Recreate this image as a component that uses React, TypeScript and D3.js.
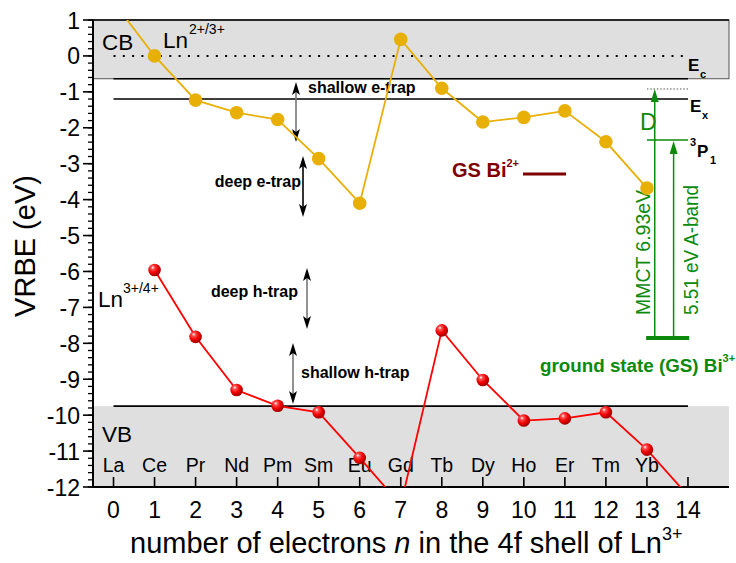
import React from "react";
import * as d3 from "d3";

const lnLabels = ["La", "Ce", "Pr", "Nd", "Pm", "Sm", "Eu", "Gd", "Tb", "Dy", "Ho", "Er", "Tm", "Yb"];
const xTickValues = [0, 1, 2, 3, 4, 5, 6, 7, 8, 9, 10, 11, 12, 13, 14];
const yTickValues = [1, 0, -1, -2, -3, -4, -5, -6, -7, -8, -9, -10, -11, -12];

const ln23N = [0, 1, 2, 3, 4, 5, 6, 7, 8, 9, 10, 11, 12, 13];
const ln23Values = [1.5, 0, -1.23, -1.58, -1.77, -2.86, -4.1, 0.46, -0.9, -1.84, -1.71, -1.53, -2.39, -3.68];

const ln34N = [1, 2, 3, 4, 5, 6, 7, 8, 9, 10, 11, 12, 13, 14];
const ln34Values = [-5.96, -7.82, -9.3, -9.74, -9.92, -11.19, -12.5, -7.64, -9.02, -10.15, -10.09, -9.92, -10.96, -12.24];

const levelEc = -0.635;
const levelEx = -1.2;
const levelVB = -9.75;
const biGS3 = -7.85;
const biMMCT = 6.93;
const biAband = 5.51;
const biGS2 = -3.29;

const W = 736;
const H = 563;
const FONT = "'Liberation Sans', Arial, Helvetica, sans-serif";
const GREY = "#dedfde";
const GOLD = "#e8b007";
const RED = "#ff0000";
const GREEN = "#0b8a0b";
const WINE = "#7f0000";

function DoubleArrow({ cx, top, bottom, color }: { cx: number; top: number; bottom: number; color: string }) {
  return (
    <g>
      <line x1={cx} x2={cx} y1={top + 8} y2={bottom - 8} stroke={color} strokeWidth={1.6} />
      <polygon points={`${cx},${top} ${cx - 4},${top + 13} ${cx},${top + 10} ${cx + 4},${top + 13}`} fill="#000" />
      <polygon points={`${cx},${bottom} ${cx - 4},${bottom - 13} ${cx},${bottom - 10} ${cx + 4},${bottom - 13}`} fill="#000" />
    </g>
  );
}

export default function App() {
  const x = d3.scaleLinear().domain([-0.5, 15]).range([93, 729]);
  const y = d3.scaleLinear().domain([-12, 1]).range([487, 20]);
  const line = d3
    .line<[number, number]>()
    .x((d) => x(d[0]))
    .y((d) => y(d[1]));

  const ln23: [number, number][] = ln23N.map((n, i) => [n, ln23Values[i]]);
  const ln34: [number, number][] = ln34N.map((n, i) => [n, ln34Values[i]]);
  const inRange = (d: [number, number]) => d[1] >= -12 && d[1] <= 1;

  const minorTicks = d3.range(-12, 1.0001, 0.2).map((v) => Math.round(v * 10) / 10);

  const x0 = x(-0.5);
  const x1 = x(15);
  const yTop = y(1);
  const yBot = y(-12);

  const mmctX = x(13.19);
  const abandX = x(13.65);
  const gsY = y(biGS3);
  const mmctTop = y(biGS3 + biMMCT);
  const p1Y = y(biGS3 + biAband);

  return (
    <svg width={W} height={H} style={{ position: "absolute", left: 0, top: 0 }} fontFamily={FONT}>
      <defs>
        <clipPath id="plotClip">
          <rect x={x0} y={yTop} width={x1 - x0} height={yBot - yTop} />
        </clipPath>
        <radialGradient id="redBall" cx="38%" cy="35%" r="65%" fx="35%" fy="30%">
          <stop offset="0%" stopColor="#ffffff" />
          <stop offset="22%" stopColor="#ff5050" />
          <stop offset="60%" stopColor="#f00000" />
          <stop offset="100%" stopColor="#a00000" />
        </radialGradient>
      </defs>
      <rect width={W} height={H} fill="#fff" />

      {/* CB region */}
      <rect x={x0} y={yTop} width={x1 - x0} height={y(levelEc) - yTop} fill={GREY} stroke="#555" strokeWidth={1} />
      <line x1={x0} x2={x1} y1={yTop} y2={yTop} stroke="#000" strokeWidth={1.5} />
      {/* VB region */}
      <rect x={x0} y={y(levelVB)} width={x1 - x0} height={yBot - y(levelVB)} fill={GREY} />

      {/* level lines */}
      <line x1={x(0)} x2={x(14)} y1={y(levelEc)} y2={y(levelEc)} stroke="#000" strokeWidth={1.6} />
      <line x1={x(0)} x2={x(14)} y1={y(levelEx)} y2={y(levelEx)} stroke="#000" strokeWidth={1.6} />
      <line x1={x(0)} x2={x(14)} y1={y(levelVB)} y2={y(levelVB)} stroke="#000" strokeWidth={1.6} />
      <line x1={x(0)} x2={x(13.95)} y1={y(0)} y2={y(0)} stroke="#000" strokeWidth={2} strokeDasharray="2,7.3" />

      {/* axes */}
      <line x1={x0} x2={x0} y1={yTop} y2={yBot} stroke="#000" strokeWidth={2} />
      <line x1={x0} x2={x1} y1={yBot} y2={yBot} stroke="#000" strokeWidth={2} />
      {minorTicks.map((v) => (
        <line key={"m" + v} x1={x0 - 5} x2={x0} y1={y(v)} y2={y(v)} stroke="#000" strokeWidth={1.3} />
      ))}
      {yTickValues.map((v) => (
        <g key={"y" + v}>
          <line x1={x0 - 10} x2={x0} y1={y(v)} y2={y(v)} stroke="#000" strokeWidth={1.6} />
          <text x={x0 - 13} y={y(v) + 8.5} textAnchor="end" fontSize={23}>
            {v < 0 ? "-" + Math.abs(v) : String(v)}
          </text>
        </g>
      ))}
      {xTickValues.map((v) => (
        <g key={"x" + v}>
          <line x1={x(v)} x2={x(v)} y1={yBot} y2={yBot - 10} stroke="#000" strokeWidth={1.6} />
          <text x={x(v)} y={518} textAnchor="middle" fontSize={23}>
            {v}
          </text>
        </g>
      ))}
      {lnLabels.map((l, i) => (
        <text key={l} x={x(i)} y={472} textAnchor="middle" fontSize={19.5}>
          {l}
        </text>
      ))}

      {/* axis titles */}
      <text transform={`translate(35,246) rotate(-90)`} textAnchor="middle" fontSize={29}>
        VRBE (eV)
      </text>
      <text x={130} y={553} fontSize={29}>
        number of electrons <tspan fontStyle="italic">n</tspan> in the 4f shell of Ln
        <tspan fontSize={18} dy={-13}>3+</tspan>
      </text>

      {/* region labels */}
      <text x={102} y={50} fontSize={22.5}>CB</text>
      <text x={102} y={442} fontSize={22.5}>VB</text>
      <text x={163} y={48} fontSize={22.5}>Ln</text>
      <text x={189} y={34} fontSize={14}>2+/3+</text>
      <text x={98} y={307} fontSize={22.5}>Ln</text>
      <text x={123} y={293} fontSize={14}>3+/4+</text>

      {/* Ec, Ex, 3P1 labels */}
      <text x={688} y={71} fontSize={17} fontWeight="bold">E</text>
      <text x={700} y={78} fontSize={11} fontWeight="bold">c</text>
      <text x={690} y={112} fontSize={17} fontWeight="bold">E</text>
      <text x={702} y={119} fontSize={11} fontWeight="bold">x</text>
      <text x={690} y={146} fontSize={11} fontWeight="bold">3</text>
      <text x={697} y={157} fontSize={17} fontWeight="bold">P</text>
      <text x={710} y={164} fontSize={11} fontWeight="bold">1</text>

      {/* trap annotations */}
      <text x={308} y={93} fontSize={16} fontWeight="bold">shallow e-trap</text>
      <text x={301} y={187} fontSize={16} fontWeight="bold" textAnchor="end">deep e-trap</text>
      <text x={298} y={297} fontSize={16} fontWeight="bold" textAnchor="end">deep h-trap</text>
      <text x={301} y={378} fontSize={16} fontWeight="bold">shallow h-trap</text>
      <DoubleArrow cx={296} top={82} bottom={142} color="#777" />
      <DoubleArrow cx={303} top={156} bottom={217} color="#000" />
      <DoubleArrow cx={307} top={268} bottom={329} color="#777" />
      <DoubleArrow cx={293} top={343} bottom={404} color="#777" />

      {/* GS Bi2+ */}
      <text x={452} y={177} fontSize={20} fontWeight="bold" fill={WINE}>
        GS Bi<tspan fontSize={11} dy={-10}>2+</tspan>
      </text>
      <line x1={523} x2={566} y1={y(biGS2)} y2={y(biGS2)} stroke={WINE} strokeWidth={3} />

      {/* Bi3+ scheme */}
      <line x1={x(13)} x2={x(14)} y1={mmctTop} y2={mmctTop} stroke="#555" strokeWidth={1} strokeDasharray="1.5,1.8" />
      <line x1={x(13)} x2={x(14)} y1={p1Y} y2={p1Y} stroke={GREEN} strokeWidth={1.5} />
      <line x1={mmctX} x2={mmctX} y1={gsY} y2={mmctTop + 10} stroke={GREEN} strokeWidth={1.5} />
      <polygon points={`${mmctX},${mmctTop} ${mmctX - 4},${mmctTop + 13} ${mmctX + 4},${mmctTop + 13}`} fill={GREEN} />
      <line x1={abandX} x2={abandX} y1={gsY} y2={p1Y + 10} stroke={GREEN} strokeWidth={1.5} />
      <polygon points={`${abandX},${p1Y + 1} ${abandX - 4},${p1Y + 14} ${abandX + 4},${p1Y + 14}`} fill={GREEN} />
      <line x1={x(12.98)} x2={x(14.03)} y1={gsY} y2={gsY} stroke={GREEN} strokeWidth={4} />
      <text x={640} y={130} fontSize={23} fill={GREEN}>D</text>
      <text transform={`translate(650,315) rotate(-90)`} fontSize={21} fill={GREEN} textLength={125} lengthAdjust="spacingAndGlyphs">
        MMCT 6.93eV
      </text>
      <text transform={`translate(698,315) rotate(-90)`} fontSize={21} fill={GREEN} textLength={130} lengthAdjust="spacingAndGlyphs">
        5.51 eV A-band
      </text>
      <text x={540} y={372} fontSize={18.8} fontWeight="bold" fill={GREEN}>
        ground state (GS) Bi<tspan fontSize={11} dy={-10}>3+</tspan>
      </text>

      {/* series */}
      <g clipPath="url(#plotClip)">
        <path d={line(ln23) || ""} fill="none" stroke={GOLD} strokeWidth={1.8} />
        <path d={line(ln34) || ""} fill="none" stroke={RED} strokeWidth={1.8} />
      </g>
      {ln23.filter(inRange).map((d) => (
        <circle key={"g" + d[0]} cx={x(d[0])} cy={y(d[1])} r={6.8} fill={GOLD} />
      ))}
      {ln34.filter(inRange).map((d) => (
        <circle key={"r" + d[0]} cx={x(d[0])} cy={y(d[1])} r={6.3} fill="url(#redBall)" />
      ))}
    </svg>
  );
}
